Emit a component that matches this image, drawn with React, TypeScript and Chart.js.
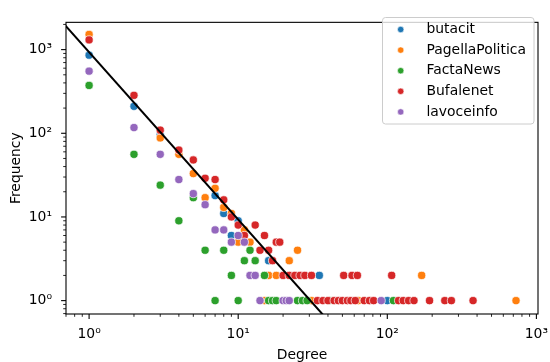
import React, { useEffect, useRef } from 'react';
import { Chart, registerables } from 'chart.js';

Chart.register(...registerables);

// ---- data ----
const seriesNames = ['butacit', 'PagellaPolitica', 'FactaNews', 'Bufalenet', 'lavoceinfo'];
const seriesColors = ['#1f77b4', '#ff7f0e', '#2ca02c', '#d62728', '#9467bd'];

const butacitDegree = [1, 2, 3, 7, 8, 9, 10, 16, 35, 100];
const butacitFreq = [858, 210, 96, 18, 11, 6, 9, 3, 2, 1];

const pagellaDegree = [1, 3, 4, 5, 6, 7, 8, 9, 10, 11, 12, 22, 25, 16, 18, 170, 15, 31, 64, 730];
const pagellaFreq = [1517, 88, 56, 33, 17, 22, 13, 11, 5, 7, 5, 3, 4, 2, 2, 2, 1, 1, 1, 1];

const factaDegree = [1, 2, 3, 4, 5, 6, 8, 12, 11, 13, 9, 15, 7, 10, 16, 17, 18, 25, 27, 29, 41, 110];
const factaFreq = [373, 56, 24, 9, 17, 4, 4, 4, 3, 3, 2, 2, 1, 1, 1, 1, 1, 1, 1, 1, 1, 1];

const bufaleDegree = [1, 2, 3, 4, 5, 6, 7, 8, 9, 10, 11, 13, 15, 14, 16, 17, 18, 19,
  20, 22, 24, 26, 28, 31, 51, 58, 63, 107,
  34, 37, 40, 44, 47, 50, 54, 57, 61, 70, 76, 81, 119, 128, 139, 151, 192, 243, 269, 376];
const bufaleFreq = [1307, 284, 109, 63, 48, 29, 28, 16, 10, 8, 6, 8, 6, 4, 4, 3, 5, 5,
  2, 2, 2, 2, 2, 2, 2, 2, 2, 2,
  1, 1, 1, 1, 1, 1, 1, 1, 1, 1, 1, 1, 1, 1, 1, 1, 1, 1, 1, 1];

const lavoceDegree = [1, 2, 3, 4, 5, 6, 7, 8, 9, 10, 11, 12, 13, 14, 20, 21, 22, 91];
const lavoceFreq = [553, 117, 56, 28, 19, 14, 7, 7, 5, 6, 5, 2, 2, 1, 1, 1, 1, 1];

// fitted power-law line (end points, clipped by the axes)
const fitDegree = [0.5, 50];
const fitFreq = [3720, 0.372];

const tickValues = [1, 10, 100, 1000];
const tickLabels = ['10⁰', '10¹', '10²', '10³'];
const xRange = [0.718, 1025];
const yRange = [0.692, 2118];

const FONT = 'DejaVu Sans';

const seriesDegree = [butacitDegree, pagellaDegree, factaDegree, bufaleDegree, lavoceDegree];
const seriesFreq = [butacitFreq, pagellaFreq, factaFreq, bufaleFreq, lavoceFreq];

function tickCallback(value: any) {
  const v = Number(value);
  for (let i = 0; i < tickValues.length; i++) {
    if (Math.abs(v - tickValues[i]) / tickValues[i] < 1e-6) return tickLabels[i];
  }
  return '';
}

const decorPlugin = {
  id: 'decor',
  afterDraw(chart: any) {
    const { ctx, chartArea: a, scales } = chart;
    ctx.save();
    ctx.strokeStyle = '#000';
    // minor/major tick marks
    const drawTicks = (scale: any, horizontal: boolean) => {
      const min = scale.min, max = scale.max;
      for (let e = Math.floor(Math.log10(min)); e <= Math.ceil(Math.log10(max)); e++) {
        for (let m = 1; m <= 9; m++) {
          const v = m * Math.pow(10, e);
          if (v < min || v > max) continue;
          const p = scale.getPixelForValue(v);
          const len = m === 1 ? 4.9 : 2.8;
          ctx.lineWidth = m === 1 ? 1.1 : 0.85;
          ctx.beginPath();
          if (horizontal) {
            ctx.moveTo(p, a.bottom);
            ctx.lineTo(p, a.bottom + len);
          } else {
            ctx.moveTo(a.left, p);
            ctx.lineTo(a.left - len, p);
          }
          ctx.stroke();
        }
      }
    };
    drawTicks(scales.x, true);
    drawTicks(scales.y, false);
    // frame
    ctx.lineWidth = 1.1;
    ctx.strokeRect(a.left, a.top, a.right - a.left, a.bottom - a.top);

    // legend
    const bx = 382.5, by = 17.5, bw = 151.5, bh = 106.5, r = 3;
    ctx.beginPath();
    ctx.moveTo(bx + r, by);
    ctx.lineTo(bx + bw - r, by);
    ctx.arcTo(bx + bw, by, bx + bw, by + r, r);
    ctx.lineTo(bx + bw, by + bh - r);
    ctx.arcTo(bx + bw, by + bh, bx + bw - r, by + bh, r);
    ctx.lineTo(bx + r, by + bh);
    ctx.arcTo(bx, by + bh, bx, by + bh - r, r);
    ctx.lineTo(bx, by + r);
    ctx.arcTo(bx, by, bx + r, by, r);
    ctx.closePath();
    ctx.fillStyle = 'rgba(255,255,255,0.8)';
    ctx.fill();
    ctx.strokeStyle = '#cccccc';
    ctx.lineWidth = 1;
    ctx.stroke();

    ctx.font = `13.9px "${FONT}"`;
    ctx.textBaseline = 'middle';
    ctx.textAlign = 'left';
    const ds = chart.data.datasets.filter((d: any) => d.isSeries);
    ds.forEach((d: any, i: number) => {
      const y = 29.5 + i * 20.6;
      ctx.beginPath();
      ctx.arc(400.7, y, 3.2, 0, Math.PI * 2);
      ctx.fillStyle = d.backgroundColor;
      ctx.fill();
      ctx.lineWidth = 0.6;
      ctx.strokeStyle = '#ffffff';
      ctx.stroke();
      ctx.fillStyle = '#000';
      ctx.fillText(d.label, 426.5, y);
    });
    ctx.restore();
  },
};

export default function App() {
  const ref = useRef<HTMLCanvasElement | null>(null);

  useEffect(() => {
    if (!ref.current) return;
    const datasets: any[] = seriesNames.map((name, i) => ({
      type: 'scatter',
      label: name,
      isSeries: true,
      data: seriesDegree[i].map((x, j) => ({ x, y: seriesFreq[i][j] })),
      backgroundColor: seriesColors[i],
      borderColor: '#ffffff',
      borderWidth: 0.7,
      pointRadius: 4.1,
      pointHoverRadius: 4.1,
      order: 5 - i,
      clip: 0,
    }));
    datasets.push({
      type: 'line',
      label: 'fit',
      isSeries: false,
      data: fitDegree.map((x, j) => ({ x, y: fitFreq[j] })),
      borderColor: '#000000',
      borderWidth: 2,
      pointRadius: 0,
      fill: false,
      tension: 0,
      order: 0,
      clip: 0,
    });

    const chart = new Chart(ref.current, {
      type: 'scatter',
      data: { datasets },
      plugins: [decorPlugin],
      options: {
        animation: false,
        responsive: false,
        devicePixelRatio: 1,
        layout: { padding: { left: 0, right: 8, top: 9, bottom: 0 } },
        plugins: {
          legend: { display: false },
          tooltip: { enabled: false },
        },
        scales: {
          x: {
            type: 'logarithmic',
            position: 'bottom',
            min: xRange[0],
            max: xRange[1],
            grid: { display: false, drawTicks: false },
            border: { display: false },
            ticks: {
              autoSkip: false,
              maxRotation: 0,
              minRotation: 0,
              padding: 12,
              color: '#000',
              font: { family: FONT, size: 13.9 },
              callback: tickCallback,
            },
            title: {
              display: true,
              text: 'Degree',
              color: '#000',
              font: { family: FONT, size: 13.9, lineHeight: 1 },
              padding: { top: 0, bottom: 0 },
            },
            afterFit: (s: any) => { s.height = 48; },
          },
          y: {
            type: 'logarithmic',
            position: 'left',
            min: yRange[0],
            max: yRange[1],
            grid: { display: false, drawTicks: false },
            border: { display: false },
            ticks: {
              autoSkip: false,
              padding: 14,
              color: '#000',
              font: { family: FONT, size: 13.9 },
              callback: tickCallback,
            },
            title: {
              display: true,
              text: 'Frequency',
              color: '#000',
              font: { family: FONT, size: 13.9, lineHeight: 1 },
              padding: { top: 9, bottom: 0 },
            },
            afterFit: (s: any) => { s.width = 66; },
          },
        },
      } as any,
    });
    return () => chart.destroy();
  }, []);

  return (
    <div style={{ position: 'absolute', left: 0, top: 0, width: 550, height: 362, background: '#fff' }}>
      <canvas ref={ref} width={550} height={362} style={{ display: 'block' }} />
    </div>
  );
}
